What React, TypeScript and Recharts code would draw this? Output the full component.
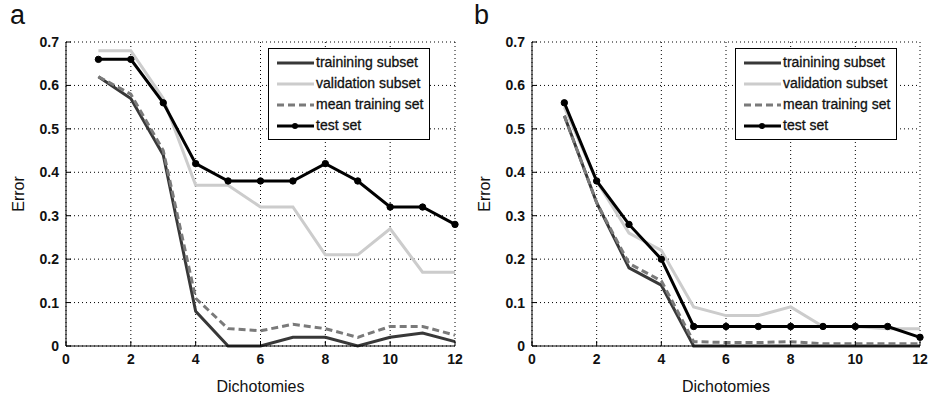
import React from 'react';
import { CartesianGrid, Legend, Line, LineChart, XAxis, YAxis } from 'recharts';

const dichotomies = [1, 2, 3, 4, 5, 6, 7, 8, 9, 10, 11, 12];
const xTicks = [0, 2, 4, 6, 8, 10, 12];
const yTicks = [0, 0.1, 0.2, 0.3, 0.4, 0.5, 0.6, 0.7];

// panel a
const trainA = [0.62, 0.57, 0.44, 0.08, 0.0, 0.0, 0.02, 0.02, 0.0, 0.02, 0.03, 0.01];
const validA = [0.68, 0.68, 0.57, 0.37, 0.37, 0.32, 0.32, 0.21, 0.21, 0.27, 0.17, 0.17];
const meanA = [0.62, 0.58, 0.45, 0.11, 0.04, 0.035, 0.05, 0.04, 0.02, 0.045, 0.045, 0.025];
const testA = [0.66, 0.66, 0.56, 0.42, 0.38, 0.38, 0.38, 0.42, 0.38, 0.32, 0.32, 0.28];

// panel b
const trainB = [0.53, 0.33, 0.18, 0.14, 0.0, 0.0, 0.0, 0.0, 0.0, 0.0, 0.0, 0.0];
const validB = [0.55, 0.38, 0.26, 0.22, 0.09, 0.07, 0.07, 0.09, 0.045, 0.045, 0.04, 0.04];
const meanB = [0.53, 0.33, 0.19, 0.15, 0.01, 0.008, 0.008, 0.01, 0.005, 0.005, 0.005, 0.005];
const testB = [0.56, 0.38, 0.28, 0.2, 0.045, 0.045, 0.045, 0.045, 0.045, 0.045, 0.045, 0.02];

const font = '"Liberation Sans", Arial, sans-serif';

const series = [
  { key: 'valid', name: 'validation subset', color: '#cccccc', dash: undefined as string | undefined, dot: false },
  { key: 'train', name: 'trainining subset', color: '#383838', dash: undefined, dot: false },
  { key: 'mean', name: 'mean training set', color: '#7a7a7a', dash: '7 4', dot: false },
  { key: 'test', name: 'test set', color: '#000000', dash: undefined, dot: true },
];
const legendOrder = ['train', 'valid', 'mean', 'test'];

const tickStyle = { fontFamily: font, fontSize: 14, fontWeight: 700, fill: '#111' };
const labelStyle = { fontFamily: font, fontSize: 16, fill: '#111' };

function LegendBox() {
  return (
    <div
      style={{
        border: '1px solid #000',
        background: '#fff',
        padding: '3px 6px 3px 8px',
        fontFamily: font,
        fontSize: 14,
        color: '#111',
        lineHeight: '21px',
        whiteSpace: 'nowrap',
        WebkitTextStroke: '0.3px #111',
      }}
    >
      {legendOrder.map(k => {
        const s = series.find(x => x.key === k)!;
        return (
          <div key={k} style={{ display: 'flex', alignItems: 'center' }}>
            <svg width={37} height={10} style={{ marginRight: 2 }}>
              <line x1={0} y1={5} x2={37} y2={5} stroke={s.color} strokeWidth={3} strokeDasharray={s.dash} />
              {s.dot && <circle cx={18} cy={5} r={3} fill="#000" />}
            </svg>
            <span>{s.name}</span>
          </div>
        );
      })}
    </div>
  );
}

function Panel({
  letter,
  left,
  marginLeft,
  marginRight,
  legendLeft,
  train,
  valid,
  mean,
  test,
}: {
  letter: string;
  left: number;
  marginLeft: number;
  marginRight: number;
  legendLeft: number;
  train: number[];
  valid: number[];
  mean: number[];
  test: number[];
}) {
  const data = dichotomies.map((x, i) => ({ x, train: train[i], valid: valid[i], mean: mean[i], test: test[i] }));
  return (
    <div style={{ position: 'absolute', left, top: 0, width: 464, height: 395 }}>
      <div style={{ position: 'absolute', left: 10, top: 0, fontFamily: font, fontSize: 27, lineHeight: '30px', color: '#111' }}>
        {letter}
      </div>
      <LineChart
        width={464}
        height={395}
        data={data}
        margin={{ top: 42, right: marginRight, left: marginLeft, bottom: 3 }}
      >
        <CartesianGrid stroke="#000" strokeDasharray="1 3" horizontalValues={yTicks} verticalValues={xTicks} />
        <XAxis
          dataKey="x"
          type="number"
          domain={[0, 12]}
          ticks={xTicks}
          height={46}
          stroke="#000"
          tick={tickStyle}
          tickSize={-5}
          tickMargin={13}
          label={{ value: 'Dichotomies', position: 'insideBottom', offset: 0, style: labelStyle }}
        />
        <XAxis xAxisId="top" orientation="top" dataKey="x" type="number" domain={[0, 12]} ticks={xTicks} height={0} stroke="#000" tickSize={-5} tickFormatter={() => ''} />
        <YAxis
          type="number"
          domain={[0, 0.7]}
          ticks={yTicks}
          width={50}
          stroke="#000"
          tick={tickStyle}
          tickSize={-5}
          tickMargin={12}
          label={{ value: 'Error', angle: -90, position: 'insideLeft', offset: 2, style: { ...labelStyle, textAnchor: 'middle' } }}
        />
        <YAxis yAxisId="right" orientation="right" type="number" domain={[0, 0.7]} ticks={yTicks} width={0} stroke="#000" tickSize={-5} tickFormatter={() => ''} />
        <Legend
          layout="horizontal"
          verticalAlign="middle"
          content={() => <LegendBox />}
          wrapperStyle={{ position: 'absolute', top: 48, left: legendLeft, width: 'auto' }}
        />
        {series.map(s => (
          <Line
            key={s.key}
            dataKey={s.key}
            name={s.name}
            type="linear"
            stroke={s.color}
            strokeWidth={3}
            strokeDasharray={s.dash}
            dot={s.dot ? { r: 3.2, fill: '#000', stroke: '#000', strokeWidth: 1 } : false}
            activeDot={false}
            isAnimationActive={false}
          />
        ))}
      </LineChart>
    </div>
  );
}

export default function App() {
  return (
    <div style={{ position: 'absolute', left: 0, top: 0, width: 928, height: 395, background: '#fff' }}>
      <Panel letter="a" left={0} marginLeft={16} marginRight={9} legendLeft={268} train={trainA} valid={validA} mean={meanA} test={testA} />
      <Panel letter="b" left={464} marginLeft={18} marginRight={8} legendLeft={271} train={trainB} valid={validB} mean={meanB} test={testB} />
    </div>
  );
}
